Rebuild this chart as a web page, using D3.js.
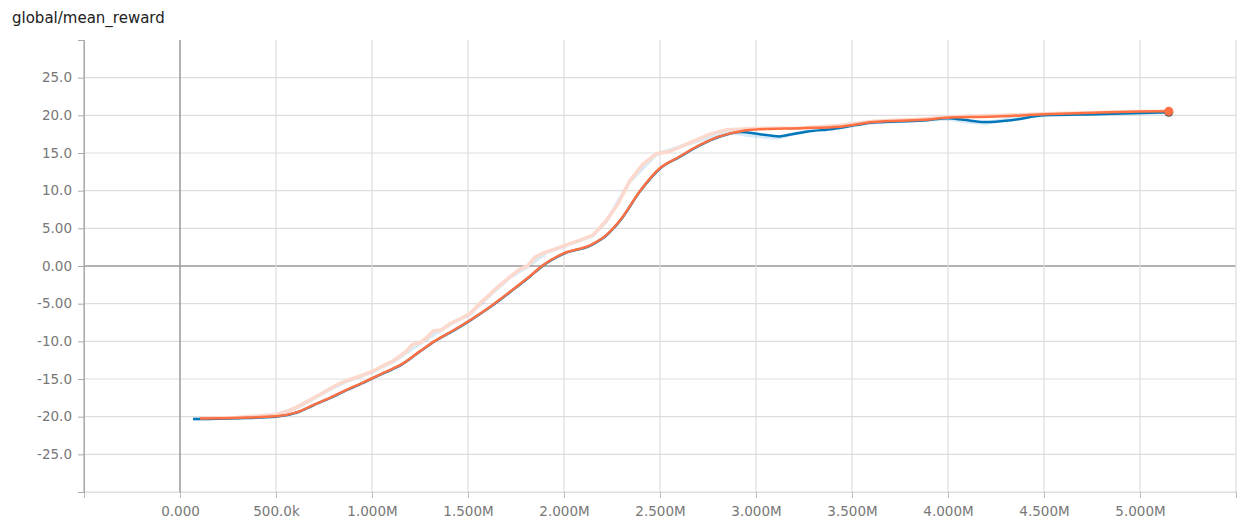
<!DOCTYPE html>
<html>
<head>
<meta charset="utf-8">
<script src="https://cdn.jsdelivr.net/npm/d3@7"></script>
<style>
  html, body { margin: 0; padding: 0; background: #fff; }
  svg { display: block; }
  .tick-label { font-family: "DejaVu Sans", sans-serif; font-size: 13.5px; fill: #777; }
  .title { font-family: "DejaVu Sans", sans-serif; font-size: 15px; fill: #212121; }
</style>
</head>
<body>
<svg id="chart" width="1242" height="525"></svg>
<script>
// ---- data (steps in millions) ----
const title = "global/mean_reward";

const xTickValues = [-0.5, 0, 0.5, 1, 1.5, 2, 2.5, 3, 3.5, 4, 4.5, 5, 5.5];
const xTickLabels = ["", "0.000", "500.0k", "1.000M", "1.500M", "2.000M", "2.500M", "3.000M", "3.500M", "4.000M", "4.500M", "5.000M", ""];
const yTickValues = [-30, -25, -20, -15, -10, -5, 0, 5, 10, 15, 20, 25, 30];
const yTickLabels = ["", "-25.0", "-20.0", "-15.0", "-10.0", "-5.00", "0.00", "5.00", "10.0", "15.0", "20.0", "25.0", ""];

// orange run: smoothed
const orangeSmoothSteps = [0.104, 0.31, 0.5, 0.61, 0.69, 0.78, 0.87, 0.95, 1.0, 1.11, 1.15, 1.25, 1.33, 1.42, 1.51, 1.61, 1.73, 1.82, 1.89, 2.0, 2.14, 2.22, 2.29, 2.4, 2.5, 2.6, 2.71, 2.81, 2.92, 3.02, 3.23, 3.44, 3.61, 3.87, 4.03, 4.22, 4.5, 4.76, 5.0, 5.15];
const orangeSmoothVals  = [-20.25, -20.15, -19.95, -19.4, -18.5, -17.5, -16.4, -15.5, -14.9, -13.6, -13.1, -11.3, -9.9, -8.6, -7.2, -5.5, -3.2, -1.4, 0.1, 1.7, 2.8, 4.1, 6.0, 10.1, 13.0, 14.5, 16.1, 17.2, 17.9, 18.15, 18.3, 18.5, 19.1, 19.4, 19.75, 19.8, 20.15, 20.35, 20.5, 20.55];

// orange run: raw
const orangeRawSteps = [0.104, 0.3, 0.5, 0.56, 0.61, 0.69, 0.74, 0.78, 0.83, 0.87, 0.95, 1.0, 1.06, 1.11, 1.18, 1.21, 1.25, 1.29, 1.32, 1.36, 1.41, 1.46, 1.51, 1.56, 1.6, 1.65, 1.72, 1.77, 1.81, 1.85, 1.91, 1.96, 2.0, 2.08, 2.15, 2.22, 2.28, 2.34, 2.41, 2.48, 2.55, 2.66, 2.76, 2.85, 3.02, 3.23, 3.44, 3.61, 3.87, 4.03, 4.5, 5.0, 5.15];
const orangeRawVals  = [-20.2, -20.1, -19.7, -19.3, -18.7, -17.6, -16.9, -16.3, -15.6, -15.2, -14.5, -14.0, -13.2, -12.6, -11.3, -10.4, -10.2, -9.4, -8.6, -8.5, -7.6, -7.0, -6.3, -5.0, -4.1, -2.9, -1.4, -0.4, 0.0, 1.2, 1.9, 2.3, 2.7, 3.4, 4.1, 6.0, 8.2, 11.2, 13.5, 14.9, 15.2, 16.4, 17.5, 18.1, 18.3, 18.3, 18.7, 19.2, 19.5, 19.8, 20.2, 20.5, 20.55];

// blue run: smoothed
const blueSmoothSteps = [0.068, 0.104, 0.31, 0.5, 0.61, 0.69, 0.78, 0.87, 0.95, 1.0, 1.11, 1.15, 1.25, 1.33, 1.42, 1.51, 1.61, 1.73, 1.82, 1.89, 2.0, 2.14, 2.22, 2.29, 2.4, 2.5, 2.6, 2.71, 2.81, 2.92, 3.02, 3.12, 3.18, 3.27, 3.40, 3.52, 3.61, 3.87, 4.0, 4.08, 4.19, 4.33, 4.5, 4.76, 5.0, 5.15];
const blueSmoothVals  = [-20.3, -20.3, -20.2, -20.0, -19.45, -18.55, -17.55, -16.45, -15.55, -14.95, -13.65, -13.15, -11.35, -9.95, -8.65, -7.25, -5.55, -3.25, -1.45, 0.05, 1.65, 2.75, 4.05, 5.95, 10.05, 12.95, 14.45, 16.05, 17.15, 17.8, 17.5, 17.2, 17.45, 17.85, 18.2, 18.7, 19.05, 19.3, 19.6, 19.4, 19.1, 19.35, 20.0, 20.15, 20.3, 20.4];

// blue run: raw
const blueRawSteps = [0.068, 0.3, 0.5, 0.61, 0.69, 0.78, 0.87, 1.0, 1.11, 1.25, 1.41, 1.51, 1.6, 1.72, 1.81, 1.91, 2.0, 2.15, 2.22, 2.34, 2.48, 2.66, 2.85, 2.95, 3.05, 3.12, 3.2, 3.3, 3.45, 3.6, 3.9, 4.0, 4.1, 4.2, 4.3, 4.5, 5.0, 5.15];
const blueRawVals  = [-20.35, -20.15, -19.75, -18.8, -17.7, -16.4, -15.3, -14.1, -12.7, -10.3, -7.7, -6.4, -4.2, -1.5, -0.1, 1.8, 2.6, 4.0, 5.9, 11.1, 14.8, 16.3, 17.8, 17.4, 17.1, 17.0, 17.6, 18.0, 18.4, 19.0, 19.4, 19.5, 19.1, 18.95, 19.5, 20.0, 20.3, 20.4];

const orangeColor = "#ff7043";
const orangeRawColor = "#fdd8cc";
const blueColor = "#0077bb";

// ---- drawing ----
const svg = d3.select("#chart");
const x = d3.scaleLinear().domain([-0.5, 5.5]).range([84, 1236]);
const y = d3.scaleLinear().domain([-30, 30]).range([492, 40]);

svg.append("text").attr("class", "title").attr("x", 12).attr("y", 23).text(title);

// horizontal grid
const grid = svg.append("g");
grid.selectAll("line.h").data(yTickValues.filter(v => v !== 30)).enter().append("line")
  .attr("x1", 84).attr("x2", 1236)
  .attr("y1", d => y(d)).attr("y2", d => y(d))
  .attr("stroke", d => d === 0 ? "#999" : "#ddd")
  .attr("stroke-width", d => d === 0 ? 1.5 : 1.2);
// vertical grid
grid.selectAll("line.v").data(xTickValues).enter().append("line")
  .attr("x1", d => x(d)).attr("x2", d => x(d))
  .attr("y1", 40).attr("y2", 492)
  .attr("stroke", d => d === 0 ? "#999" : (d === -0.5 ? "#aaa" : "#ddd"))
  .attr("stroke-width", d => d === 0 ? 1.5 : 1.2);

// y axis
const yAxis = d3.axisLeft(y).tickValues(yTickValues).tickSize(6).tickPadding(6)
  .tickFormat((d, i) => yTickLabels[i]);
const gy = svg.append("g").attr("transform", "translate(84,0)").call(yAxis);
gy.select(".domain").attr("stroke", "#aaa");
gy.selectAll(".tick line").attr("stroke", "#aaa");
gy.selectAll(".tick text").attr("class", "tick-label").attr("font-family", null).attr("font-size", null).attr("fill", null);

// x axis
const xAxis = d3.axisBottom(x).tickValues(xTickValues).tickSize(6).tickPadding(8)
  .tickFormat((d, i) => xTickLabels[i]);
const gx = svg.append("g").attr("transform", "translate(0,492)").call(xAxis);
gx.select(".domain").attr("stroke", "#ddd");
gx.selectAll(".tick line").attr("stroke", "#bbb");
gx.selectAll(".tick text").attr("class", "tick-label").attr("font-family", null).attr("font-size", null).attr("fill", null);

function pts(steps, vals) { return steps.map((s, i) => [s, vals[i]]); }
const lineRaw = d3.line().x(d => x(d[0])).y(d => y(d[1])).curve(d3.curveLinear);
const lineSmooth = d3.line().x(d => x(d[0])).y(d => y(d[1])).curve(d3.curveMonotoneX);

const plot = svg.append("g");
plot.append("path").attr("d", lineRaw(pts(blueRawSteps, blueRawVals)))
  .attr("fill", "none").attr("stroke", blueColor).attr("stroke-opacity", 0.15).attr("stroke-width", 3.5).attr("stroke-linejoin", "round");
plot.append("path").attr("d", lineRaw(pts(orangeRawSteps, orangeRawVals)))
  .attr("fill", "none").attr("stroke", orangeRawColor).attr("stroke-width", 3.5).attr("stroke-linejoin", "round");
plot.append("path").attr("d", lineSmooth(pts(blueSmoothSteps, blueSmoothVals)))
  .attr("fill", "none").attr("stroke", blueColor).attr("stroke-width", 2.5).attr("stroke-linejoin", "round");
plot.append("path").attr("d", lineSmooth(pts(orangeSmoothSteps, orangeSmoothVals)))
  .attr("fill", "none").attr("stroke", orangeColor).attr("stroke-width", 2.5).attr("stroke-linejoin", "round");

// end markers
const bl = blueSmoothSteps.length - 1, ol = orangeSmoothSteps.length - 1;
plot.append("circle").attr("cx", x(blueSmoothSteps[bl])).attr("cy", y(blueSmoothVals[bl])).attr("r", 4.5).attr("fill", "#555");
plot.append("circle").attr("cx", x(orangeSmoothSteps[ol])).attr("cy", y(orangeSmoothVals[ol])).attr("r", 4.5).attr("fill", orangeColor);
</script>
</body>
</html>
